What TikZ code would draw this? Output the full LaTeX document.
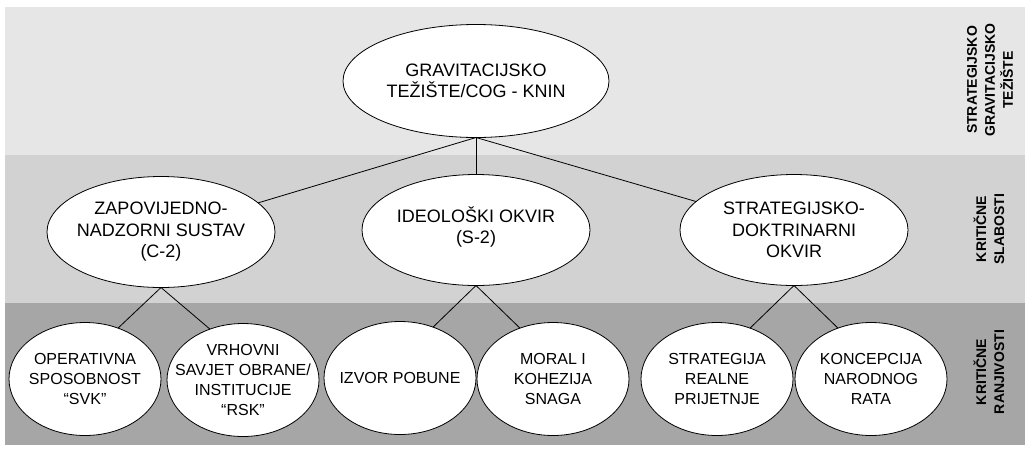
\documentclass[tikz,border=0pt]{standalone}
\usepackage{fontspec}
\setmainfont{Liberation Sans}
\newfontfamily\sidefont{Liberation Sans Bold}
\usetikzlibrary{shapes.geometric}
\definecolor{bandA}{RGB}{230,230,230}
\definecolor{bandB}{RGB}{210,210,210}
\definecolor{bandC}{RGB}{166,166,166}
\begin{document}
\begin{tikzpicture}[x=1pt,y=-1pt,
 el/.style={ellipse,draw=black,fill=white,line width=0.8pt,inner sep=0pt,outer sep=0pt},
 bigel/.style={el,minimum width=266pt,minimum height=113pt},
 midel/.style={el,minimum width=228pt,minimum height=111pt},
 smallel/.style={el,minimum width=152pt,minimum height=113pt},
 tbig/.style={align=center,font=\fontsize{18}{21.5}\selectfont},
 tsmall/.style={align=center,font=\fontsize{16}{20}\selectfont},
 side/.style={rotate=90,align=center,inner sep=0pt,font=\sidefont\fontsize{14}{18}\selectfont},
 conn/.style={line width=0.8pt}]
\useasboundingbox (0,0) rectangle (1025,448);
\fill[white] (0,0) rectangle (1025,448);
\fill[bandA] (5,7) rectangle (1025,155);
\fill[bandB] (5,155) rectangle (1025,303);
\fill[bandC] (5,303) rectangle (1025,445);

% side labels
\node[side] (lA) at (990,80) {STRATEGIJSKO\\GRAVITACIJSKO\\TEŽIŠTE};
\node[side] (lB) at (989,229) {KRITIČNE\\SLABOSTI};
\node[side] (lC) at (989,372) {KRITIČNE\\RANJIVOSTI};

% ellipses
\node[bigel] (cog) at (476,81) {};
\node[midel] (c2) at (161,232) {};
\node[midel] (s2) at (476,230) {};
\node[midel] (sd) at (794,230) {};
\node[smallel] (op) at (85,379) {};
\node[smallel] (vr) at (243,380) {};
\node[smallel] (iz) at (400,378) {};
\node[smallel] (mo) at (553,379) {};
\node[smallel] (sr) at (717,379) {};
\node[smallel] (ko) at (871,379) {};

% connectors
\draw[conn] (cog.south) -- (c2);
\draw[conn] (cog.south) -- (s2);
\draw[conn] (cog.south) -- (sd);
\draw[conn] (c2.south) -- (op.57);
\draw[conn] (c2.south) -- (vr.123);
\draw[conn] (s2.south) -- (iz.57);
\draw[conn] (s2.south) -- (mo.123);
\draw[conn] (sd.south) -- (sr.57);
\draw[conn] (sd.south) -- (ko.123);

% texts
\node[tbig] (tcog) at (cog) {GRAVITACIJSKO\\TEŽIŠTE/COG - KNIN};
\node[tbig] (tc2) at (c2) {ZAPOVIJEDNO-\\NADZORNI SUSTAV\\(C-2)};
\node[tbig] (ts2) at ([yshift=3]s2.center) {IDEOLOŠKI OKVIR\\(S-2)};
\node[tbig] (tsd) at (sd) {STRATEGIJSKO-\\DOKTRINARNI\\OKVIR};
\node[tsmall] (top) at (op) {OPERATIVNA\\SPOSOBNOST\\“SVK”};
\node[tsmall] (tvr) at (vr) {VRHOVNI\\SAVJET OBRANE/\\INSTITUCIJE\\“RSK”};
\node[tsmall] (tiz) at (iz) {IZVOR POBUNE};
\node[tsmall] (tmo) at (mo) {MORAL I\\KOHEZIJA\\SNAGA};
\node[tsmall] (tsr) at (sr) {STRATEGIJA\\REALNE\\PRIJETNJE};
\node[tsmall] (tko) at (ko) {KONCEPCIJA\\NARODNOG\\RATA};
\end{tikzpicture}
\end{document}
